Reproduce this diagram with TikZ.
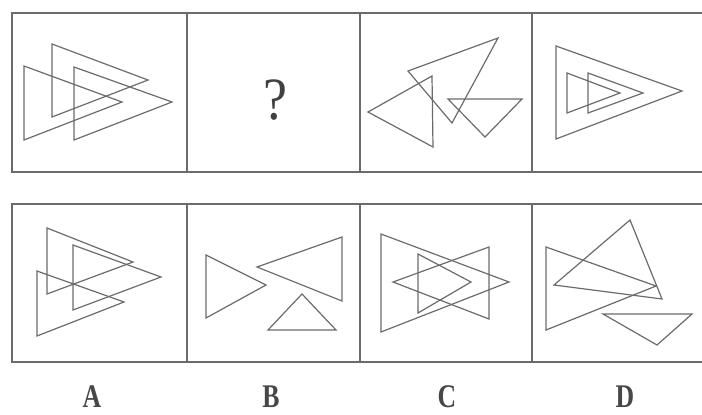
\documentclass[tikz,border=0pt]{standalone}
\usepackage{xcolor}
\usepackage{fontspec}
\setmainfont{Liberation Serif}
\usepackage{tikz}
\usetikzlibrary{positioning}

\begin{document}
\begin{tikzpicture}[
  x=1pt, y=-1pt,
  cell/.style={draw=black!58, line width=1.6pt},
  tri/.style={draw=black!58, line width=1.2pt, line join=miter},
  lab/.style={font=\fontsize{33}{33}\selectfont\bfseries, text=black!72, inner sep=0pt, xscale=0.78}
]
\useasboundingbox (0,0) rectangle (702,415);

% top row
\draw[cell] (702,13) -- (12,13) -- (12,172) -- (702,172);
\draw[cell] (187,13) -- (187,172);
\draw[cell] (360,13) -- (360,172);
\draw[cell] (532,13) -- (532,172);

% bottom row
\draw[cell] (702,204) -- (12,204) -- (12,362) -- (702,362);
\draw[cell] (187,204) -- (187,362);
\draw[cell] (360,204) -- (360,362);
\draw[cell] (532,204) -- (532,362);

% top 1
\draw[tri] (52,44) -- (148,80) -- (52,117) -- cycle;
\draw[tri] (24,66) -- (122,102) -- (24,140) -- cycle;
\draw[tri] (74,67) -- (172,102) -- (74,140) -- cycle;

% top 2
\node[font=\fontsize{60}{60}\selectfont, text=black!75, inner sep=0pt, xscale=0.9] (q) at (275,100) {?};

% top 3
\draw[tri] (408,71) -- (498,38) -- (452,123) -- cycle;
\draw[tri] (432,76) -- (368,112) -- (433,147) -- cycle;
\draw[tri] (448,99) -- (522,99) -- (485,137) -- cycle;

% top 4
\draw[tri] (556,46) -- (682,91) -- (556,139) -- cycle;
\draw[tri] (567,73) -- (620,93) -- (567,113) -- cycle;
\draw[tri] (588,73) -- (643,93) -- (588,113) -- cycle;

% A
\draw[tri] (47,228) -- (133,262) -- (47,294) -- cycle;
\draw[tri] (73,245) -- (161,277) -- (73,310) -- cycle;
\draw[tri] (37,271) -- (124,302) -- (37,336) -- cycle;

% B
\draw[tri] (206,255) -- (266,285) -- (206,318) -- cycle;
\draw[tri] (342,237) -- (257,267) -- (342,301) -- cycle;
\draw[tri] (302,294) -- (336,330) -- (268,330) -- cycle;

% C
\draw[tri] (381,234) -- (509,282) -- (381,332) -- cycle;
\draw[tri] (489,247) -- (393,282) -- (489,319) -- cycle;
\draw[tri] (418,254) -- (471,282) -- (418,313) -- cycle;

% D
\draw[tri] (546,247) -- (656,286) -- (546,330) -- cycle;
\draw[tri] (554,285) -- (630,220) -- (662,299) -- cycle;
\draw[tri] (603,314) -- (692,314) -- (657,345) -- cycle;

% labels
\node[lab] (labA) at (92,397) {A};
\node[lab] (labB) at (271,397) {B};
\node[lab] (labC) at (447,397) {C};
\node[lab] (labD) at (625,397) {D};
\end{tikzpicture}
\end{document}
